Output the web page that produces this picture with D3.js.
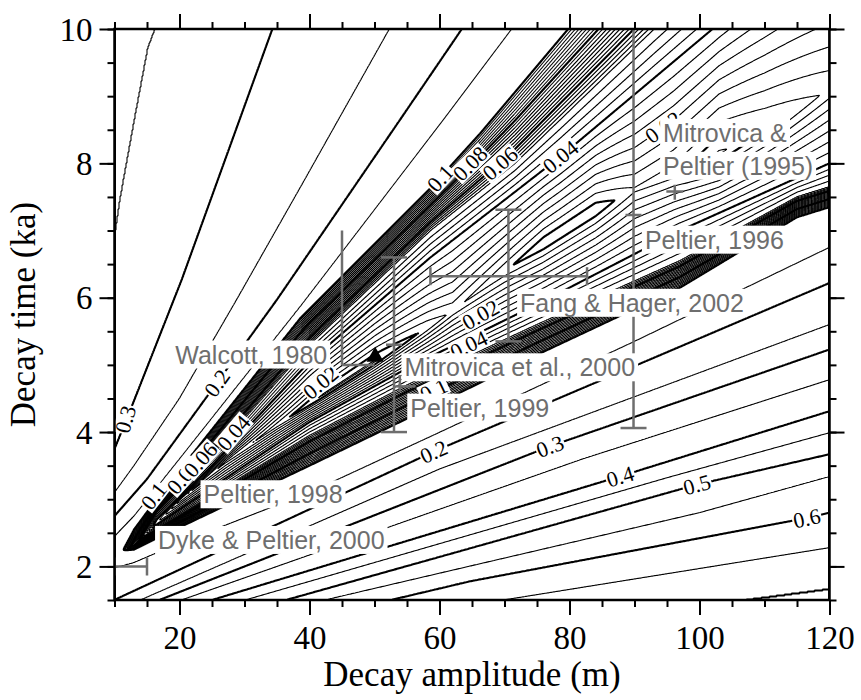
<!DOCTYPE html>
<html>
<head>
<meta charset="utf-8">
<script src="https://cdn.jsdelivr.net/npm/d3@7"></script>
<style>
  body { margin: 0; background: #fff; }
  svg { display: block; }
  .axis text { font-family: "Liberation Serif", "Times New Roman", serif; font-size: 33px; fill: #000; }
  .axis line { stroke: #000; stroke-width: 2px; }
  .axis path { display: none; }
  .title { font-family: "Liberation Serif", "Times New Roman", serif; font-size: 35px; fill: #000; }
  .clabel { font-family: "Liberation Serif", "Times New Roman", serif; font-size: 22px; fill: #000; }
  .ref { font-family: "Liberation Sans", Arial, sans-serif; font-size: 25px; fill: #6e6e6e; }
</style>
</head>
<body>
<svg id="chart" width="861" height="700"></svg>
<script>
'use strict';

// ---- axes ----
var xDomain = [10, 120];
var yDomain = [1.5, 10];
var xTickLabels = [20, 40, 60, 80, 100, 120];
var yTickLabels = [2, 4, 6, 8, 10];

// ---- misfit field ----
// valley floor (minimum misfit) along the decay amplitude
var valleyA = [10, 11.4, 12.5, 13.5, 14.5, 16, 20, 27, 35, 42, 50, 58, 62, 70, 76, 84, 90, 96, 103, 110, 120];
var valleyT = [2.24, 2.25, 2.3, 2.38, 2.46, 2.6, 2.98, 3.55, 4.1, 4.55, 5.05, 5.55, 5.8, 6.4, 6.8, 7.3, 7.6, 7.85, 8.15, 8.5, 9.1];
var valleyMisfit = [0.14, 0.1, 0.08, 0.065, 0.05, 0.04, 0.028, 0.024, 0.021, 0.017, 0.017, 0.0205, 0.023, 0.0205, 0.018, 0.018, 0.022, 0.021, 0.017, 0.0195, 0.023];

// contours below the valley, outermost first: [amplitude, time] points
var lowerLevels = [0.7, 0.65, 0.6, 0.55, 0.5, 0.45, 0.4, 0.35, 0.3, 0.25, 0.2, 0.15, 0.1, 0.05, 0.04];
var lowerLines = [
  [[106.6, 1.5], [120, 1.67]],
  [[69.8, 1.5], [120, 2.28]],
  [[52.5, 1.5], [64.7, 1.78], [116.5, 2.72], [120, 2.8]],
  [[42.3, 1.5], [100, 2.8], [120, 3.34]],
  [[36.4, 1.5], [99.6, 3.22], [120, 3.67]],
  [[30.1, 1.5], [95, 3.32], [120, 3.99]],
  [[25, 1.5], [87.8, 3.34], [120, 4.31]],
  [[20.3, 1.5], [82, 3.6], [120, 4.78]],
  [[16.9, 1.5], [77, 3.79], [120, 5.23]],
  [[14, 1.5], [60, 3.45], [120, 5.6]],
  [[10, 1.5], [59.1, 3.71], [120, 6.22]],
  [[10, 1.98], [13, 2.06], [20, 2.35], [40, 3.1], [59, 3.95], [90, 5.35], [120, 6.75]],
  [[11.4, 2.24], [13, 2.25], [16.5, 2.42], [40, 3.5], [55, 4.2], [75, 5.15], [97, 6.15], [115, 7.2], [120, 7.35]],
  [[14.5, 2.45], [16.5, 2.56], [40, 3.95], [55, 4.7], [75, 5.6], [97, 6.55], [115, 7.5], [120, 7.65]],
  [[16, 2.59], [20, 2.85], [40, 4.15], [55, 4.95], [75, 5.9], [97, 7.0], [120, 8.0]]
];

// contours above the valley, innermost first
var upperLevels = [0.04, 0.05, 0.1, 0.15, 0.2, 0.25, 0.3, 0.35];
var upperLines = [
  [[16, 2.62], [16.5, 2.7], [25, 3.5], [40, 5.05], [58.6, 6.6], [78.6, 8.1], [102, 10], [108, 10.5]],
  [[14.5, 2.47], [16.5, 2.8], [25, 3.65], [40, 5.3], [58.6, 7.0], [71.6, 8.0], [93, 10], [98, 10.45]],
  [[11.4, 2.26], [13, 2.55], [16.3, 2.98], [38.6, 5.7], [58.6, 7.63], [66.3, 8.45], [79.8, 10], [82, 10.25]],
  [[10, 2.45], [13, 2.75], [20, 3.6], [38.6, 5.87], [60.6, 8.65], [71.1, 10], [73, 10.25]],
  [[10, 2.75], [15, 3.3], [25.75, 4.73], [35, 5.97], [53.95, 8.65], [63.45, 10], [65, 10.22]],
  [[10, 3.1], [13, 3.5], [20, 4.5], [28.8, 5.97], [39, 7.71], [52.3, 10], [54, 10.3]],
  [[10, 3.74], [12.68, 4.38], [20.37, 6.27], [34.3, 10], [36, 10.45]],
  [[10, 6.86], [10.9, 7.46], [13.2, 8.69], [15.2, 9.72], [16.3, 10], [18, 10.4], [20, 11]]
];

// contour labels
var contourLabelText = ['0.3', '0.2', '0.1', '0.08', '0.06', '0.04', '0.1', '0.08', '0.06', '0.04', '0.02',
  '0.02', '0.02', '0.04', '0.1', '0.2', '0.3', '0.4', '0.5', '0.6'];
var contourLabelA = [11.66, 25.75, 16.0, 20.6, 23.2, 28.3, 60.1, 64.7, 69.3, 78.6, 94.4, 41.7, 66.3, 64.5, 59.1, 59.1, 77.0, 87.8, 99.6, 116.5];
var contourLabelT = [4.19, 4.73, 3.05, 3.34, 3.59, 3.99, 7.78, 8.0, 8.0, 8.1, 8.54, 4.74, 5.75, 5.3, 4.63, 3.71, 3.79, 3.34, 3.22, 2.72];

// published estimates (grey bars): [amplitude, time, time] and [time, amplitude, amplitude]
var cappedVBars = [[53, 4.0, 6.6], [70.6, 5.35, 7.31], [89.85, 4.06, 10.5]];
var cappedHBars = [[2.0, 10, 15], [6.32, 58.6, 82.7]];
var plainVBars = [[45, 5.0, 7.0], [53.9, 4.6, 4.85], [96.2, 7.46, 7.68]];
var plainHBars = [[5.0, 45, 50], [4.68, 53.2, 56.3], [7.58, 94.9, 97.5]];
var centralTicks = [[53, 5.3], [89.85, 7.23]];
var triangleA = [50.1];
var triangleT = [5.12];

var refText = ['Mitrovica &', 'Peltier (1995)', 'Peltier, 1996', 'Fang & Hager, 2002', 'Mitrovica et al., 2000',
  'Peltier, 1999', 'Walcott, 1980', 'Peltier, 1998', 'Dyke & Peltier, 2000'];
var refA = [94.4, 94.4, 91.6, 72.4, 54.6, 55.5, 19.35, 23.7, 16.7];
var refT = [8.32, 7.83, 6.73, 5.79, 4.83, 4.23, 5.02, 2.94, 2.26];

// ---- setup ----
var svg = d3.select('#chart');
var x0 = 114.5, x1 = 829.5, y0 = 29, y1 = 600;
var x = d3.scaleLinear().domain(xDomain).range([x0, x1]);
var y = d3.scaleLinear().domain(yDomain).range([y1, y0]);
var grey = '#6e6e6e';

function interp1(xs, ys, a) {
  if (a <= xs[0]) return ys[0];
  for (var i = 1; i < xs.length; i++) {
    if (a <= xs[i]) {
      var f = (a - xs[i - 1]) / (xs[i] - xs[i - 1]);
      return ys[i - 1] + f * (ys[i] - ys[i - 1]);
    }
  }
  return ys[ys.length - 1];
}

function lineT(pts, a, openLeft) {
  if (a < pts[0][0] && !openLeft) return null;
  var i = 1;
  while (i < pts.length - 1 && a > pts[i][0]) i++;
  var p0 = pts[i - 1], p1 = pts[i];
  return p0[1] + (a - p0[0]) * (p1[1] - p0[1]) / (p1[0] - p0[0]);
}

// a contour only exists left of its nose if it lies above the floor at the edge
var floorAtEdge = valleyMisfit[0];

function nodesAt(a) {
  var nodes = [];
  lowerLevels.forEach(function (lev, i) {
    var t = lineT(lowerLines[i], a, lev > floorAtEdge);
    if (t !== null) nodes.push([t, lev]);
  });
  nodes.push([interp1(valleyA, valleyT, a), interp1(valleyA, valleyMisfit, a)]);
  upperLevels.forEach(function (lev, i) {
    var t = lineT(upperLines[i], a, lev > floorAtEdge);
    if (t !== null) nodes.push([t, lev]);
  });
  return nodes;
}

function valueAt(nodes, t) {
  if (t <= nodes[0][0]) return nodes[0][1];
  for (var k = 1; k < nodes.length; k++) {
    if (t <= nodes[k][0]) {
      var a = nodes[k - 1], b = nodes[k];
      if (b[0] <= a[0]) return b[1];
      return a[1] + (t - a[0]) / (b[0] - a[0]) * (b[1] - a[1]);
    }
  }
  return nodes[nodes.length - 1][1];
}

function misfitAtPixel(px, py) {
  return valueAt(nodesAt(x.invert(px)), y.invert(py));
}

// ---- sample the field on a pixel grid ----
var n = Math.round(x1 - x0), m = Math.round(y1 - y0);
var values = new Float64Array(n * m);
for (var i = 0; i < n; i++) {
  var nodes = nodesAt(x.invert(x0 + i + 0.5));
  for (var j = 0; j < m; j++) {
    values[j * n + i] = valueAt(nodes, y.invert(y0 + j + 0.5));
  }
}

var contourLevels = d3.range(5, 40).map(function (k) { return +(k * 0.0025).toFixed(4); })
  .concat(d3.range(2, 15).map(function (k) { return +(k * 0.05).toFixed(2); }));

function isThick(v) {
  if (v < 0.0999) return Math.abs(v * 50 - Math.round(v * 50)) < 1e-6;
  return Math.abs(v * 10 - Math.round(v * 10)) < 1e-6;
}

var contours = d3.contours().size([n, m]).thresholds(contourLevels)(values);

svg.append('defs').append('clipPath').attr('id', 'plot-clip')
  .append('rect').attr('x', x0).attr('y', y0).attr('width', x1 - x0).attr('height', y1 - y0);

var plot = svg.append('g').attr('clip-path', 'url(#plot-clip)');

plot.append('g')
  .attr('transform', 'translate(' + x0 + ',' + y0 + ')')
  .selectAll('path')
  .data(contours)
  .join('path')
  .attr('d', d3.geoPath())
  .attr('fill', 'none')
  .attr('stroke', '#000')
  .attr('stroke-linejoin', 'round')
  .attr('stroke-width', function (d) { return isThick(d.value) ? 2.1 : 1.1; });

// ---- contour labels ----
function labelAngle(px, py) {
  var gx = misfitAtPixel(px + 2, py) - misfitAtPixel(px - 2, py);
  var gy = misfitAtPixel(px, py + 2) - misfitAtPixel(px, py - 2);
  var ang = Math.atan2(gx, -gy) * 180 / Math.PI;
  if (ang > 90) ang -= 180;
  if (ang < -90) ang += 180;
  return ang;
}

contourLabelText.forEach(function (txt, k) {
  var px = x(contourLabelA[k]), py = y(contourLabelT[k]);
  var g = plot.append('g')
    .attr('transform', 'translate(' + px + ',' + py + ') rotate(' + labelAngle(px, py) + ')');
  var rect = g.append('rect').attr('fill', '#fff');
  var text = g.append('text').attr('class', 'clabel')
    .attr('text-anchor', 'middle').attr('dy', '0.35em').text(txt);
  var bb = text.node().getBBox();
  rect.attr('x', bb.x - 1).attr('y', bb.y + 3).attr('width', bb.width + 2).attr('height', bb.height - 6);
});

// ---- published estimates ----
var bars = plot.append('g').attr('stroke', grey).attr('stroke-width', 2.5).attr('fill', 'none');
function seg(a0, t0, a1, t1) {
  bars.append('line').attr('x1', x(a0)).attr('y1', y(t0)).attr('x2', x(a1)).attr('y2', y(t1));
}
function capH(a, t, half) {
  bars.append('line').attr('x1', x(a) - half).attr('x2', x(a) + half).attr('y1', y(t)).attr('y2', y(t));
}
function capV(a, t, half) {
  bars.append('line').attr('x1', x(a)).attr('x2', x(a)).attr('y1', y(t) - half).attr('y2', y(t) + half);
}
cappedVBars.forEach(function (b) { seg(b[0], b[1], b[0], b[2]); capH(b[0], b[1], 13); capH(b[0], b[2], 13); });
cappedHBars.forEach(function (b) { seg(b[1], b[0], b[2], b[0]); capV(b[1], b[0], 9); capV(b[2], b[0], 9); });
plainVBars.forEach(function (b) { seg(b[0], b[1], b[0], b[2]); });
plainHBars.forEach(function (b) { seg(b[1], b[0], b[2], b[0]); });
centralTicks.forEach(function (c) { capH(c[0], c[1], 8); });

// ---- reference names ----
refText.forEach(function (txt, k) {
  var g = plot.append('g');
  var rect = g.append('rect').attr('fill', '#fff');
  var text = g.append('text').attr('class', 'ref').attr('x', x(refA[k])).attr('y', y(refT[k])).text(txt);
  var bb = text.node().getBBox();
  rect.attr('x', bb.x - 3).attr('y', bb.y).attr('width', bb.width + 6).attr('height', bb.height);
});

plot.selectAll('.tri')
  .data(triangleA)
  .join('path')
  .attr('class', 'tri')
  .attr('d', d3.symbol().type(d3.symbolTriangle).size(130))
  .attr('transform', function (d, k) { return 'translate(' + x(d) + ',' + y(triangleT[k]) + ')'; })
  .attr('fill', '#000');

// ---- axes ----
function axis(gen, tx, ty, ticks, size, labels) {
  var a = gen.tickValues(ticks).tickSizeInner(size).tickSizeOuter(0).tickPadding(6);
  if (!labels) a.tickFormat('');
  return svg.append('g').attr('class', 'axis').attr('transform', 'translate(' + tx + ',' + ty + ')').call(a);
}
var xMinor = d3.range(10, 121, 5);
var yMinor = d3.range(3, 21).map(function (k) { return k * 0.5; });
var xMajor = d3.range(20, 121, 20);

axis(d3.axisBottom(x), 0, y1, xMinor, 7, false);
axis(d3.axisBottom(x), 0, y1, xMajor, 15, false);
axis(d3.axisBottom(x), 0, y1, xTickLabels, 15, true).selectAll('text').attr('dy', '0.85em');
axis(d3.axisTop(x), 0, y0, xMinor, 7, false);
axis(d3.axisTop(x), 0, y0, xMajor, 15, false);
axis(d3.axisLeft(y), x0, 0, yMinor, 7, false);
axis(d3.axisLeft(y), x0, 0, yTickLabels, 15, true).selectAll('text').attr('dy', '0.34em').attr('dx', '-1');
axis(d3.axisRight(y), x1, 0, yMinor, 7, false);
axis(d3.axisRight(y), x1, 0, yTickLabels, 15, false);

svg.append('rect')
  .attr('x', x0).attr('y', y0).attr('width', x1 - x0).attr('height', y1 - y0)
  .attr('fill', 'none').attr('stroke', '#000').attr('stroke-width', 2.5);

svg.append('text').attr('class', 'title')
  .attr('x', (x0 + x1) / 2).attr('y', 686).attr('text-anchor', 'middle')
  .text('Decay amplitude (m)');
svg.append('text').attr('class', 'title')
  .attr('transform', 'translate(35,' + ((y0 + y1) / 2) + ') rotate(-90)')
  .attr('text-anchor', 'middle')
  .text('Decay time (ka)');
</script>
</body>
</html>
